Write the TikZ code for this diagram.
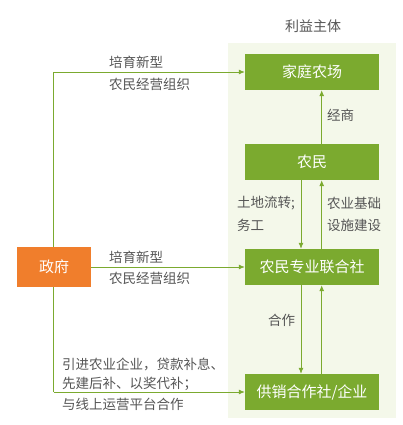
\documentclass[tikz,border=0pt]{standalone}
\usepackage{fontspec}
\setmainfont{Noto Sans CJK SC}
\usetikzlibrary{arrows.meta, positioning, calc}
\definecolor{leafgreen}{HTML}{7BAA2F}
\definecolor{palegreen}{HTML}{F4F8EA}
\definecolor{govorange}{HTML}{F07E2C}
\definecolor{labelgrey}{HTML}{555555}
\tikzset{actor/.style={fill=leafgreen, text=white, minimum width=134pt, minimum height=36pt, inner sep=0pt, font=\fontsize{15}{17}\selectfont}}
\tikzset{govbox/.style={fill=govorange, text=white, minimum width=74pt, minimum height=40pt, inner sep=0pt, font=\fontsize{15}{17}\selectfont}}
\tikzset{flow/.style={color=leafgreen, line width=0.8pt, -{Latex[length=6pt, width=5pt]}}}
\tikzset{note/.style={text=labelgrey, inner sep=0pt, font=\fontsize{13.5}{15}\selectfont}}
\begin{document}
\begin{tikzpicture}[x=1pt, y=-1pt]
            \useasboundingbox (0, 0) rectangle (402, 425);
            \fill [palegreen] (228, 43) rectangle (396, 418);
            \node [note, font=\fontsize{14}{16}\selectfont] (title) at (313, 26) { 利益主体 };

            \node [actor] (farm) at (312, 72) { 家庭农场 };
            \node [actor] (peasant) at (312, 162) { 农民 };
            \node [actor] (union) at (312, 267) { 农民专业联合社 };
            \node [actor] (supply) at (312, 392) { 供销合作社/企业 };
            \node [govbox] (gov) at (54, 267) { 政府 };

            \coordinate (gtop) at (53.5, 72);
            \coordinate (gbot) at (53.5, 392);

            \draw [flow, -] (gov.north -| gtop) -- (gtop);
            \draw [flow] (gtop) -- (farm.west);
            \draw [flow] (gov.east) -- (union.west);
            \draw [flow, -] (gov.south -| gbot) -- (gbot);
            \draw [flow] (gbot) -- (supply.west);

            \draw [flow] ($(peasant.north)+(9.7,0)$) -- ($(farm.south)+(9.7,0)$);
            \draw [flow] ($(peasant.south)+(-11,0)$) -- ($(union.north)+(-11,0)$);
            \draw [flow] ($(union.north)+(9.7,0)$) -- ($(peasant.south)+(9.7,0)$);
            \draw [flow] ($(union.south)+(-11,0)$) -- ($(supply.north)+(-11,0)$);
            \draw [flow] ($(supply.north)+(9.7,0)$) -- ($(union.south)+(9.7,0)$);

            \node [note, anchor=west] (l1a) at (109, 62) { 培育新型 };
            \node [note, anchor=west] (l1b) at (109, 84) { 农民经营组织 };
            \node [note, anchor=west] (l2a) at (109, 257) { 培育新型 };
            \node [note, anchor=west] (l2b) at (109, 278) { 农民经营组织 };
            \node [note, anchor=west] (l3) at (327, 115) { 经商 };
            \node [note, anchor=west] (l4a) at (237, 203) { 土地流转; };
            \node [note, anchor=west] (l4b) at (237, 225) { 务工 };
            \node [note, anchor=west] (l5a) at (327, 203) { 农业基础 };
            \node [note, anchor=west] (l5b) at (327, 225) { 设施建设 };
            \node [note, anchor=west] (l6) at (268, 320) { 合作 };
            \node [note, anchor=west] (l7a) at (62, 364) { 引进农业企业，贷款补息、 };
            \node [note, anchor=west] (l7b) at (62, 384) { 先建后补、以奖代补； };
            \node [note, anchor=west] (l7c) at (62, 404) { 与线上运营平台合作 };
        \end{tikzpicture}
\end{document}
